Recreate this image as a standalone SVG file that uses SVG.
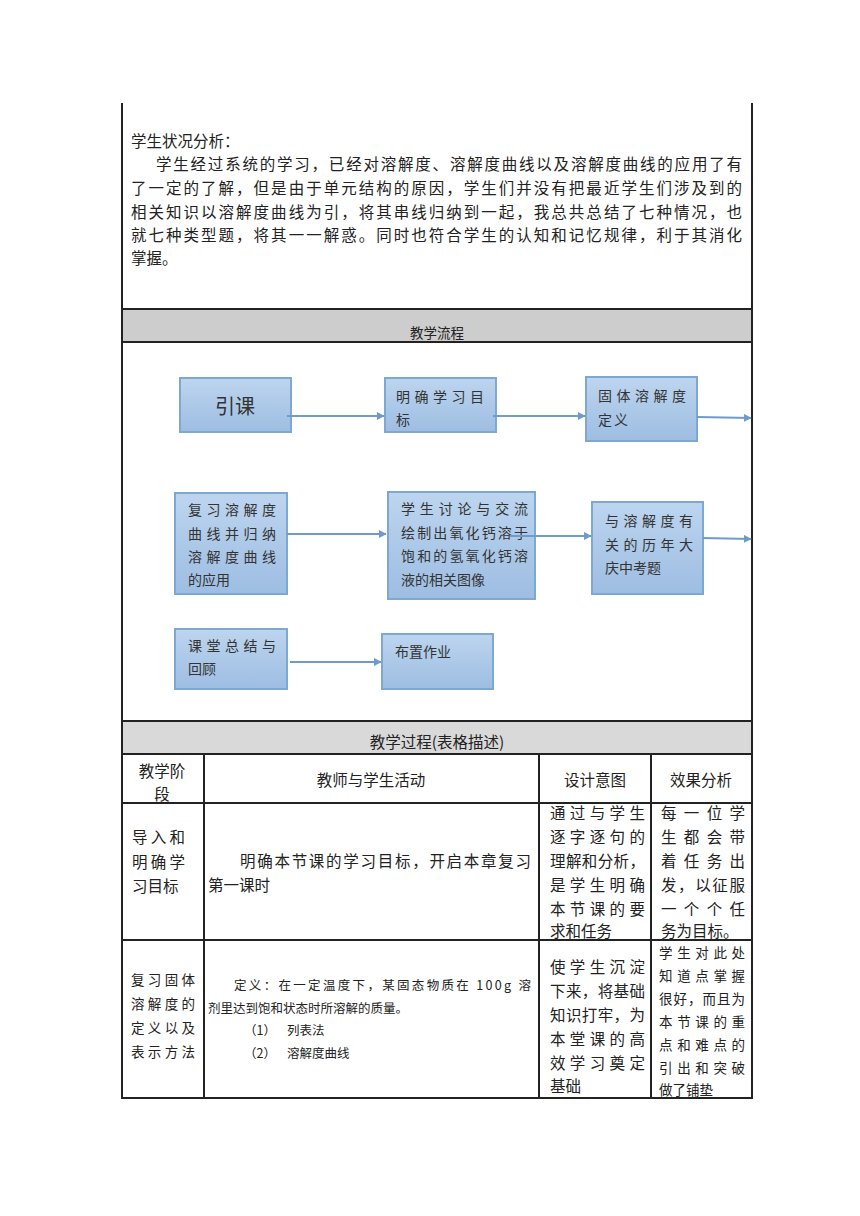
<svg xmlns="http://www.w3.org/2000/svg" width="860" height="1216" viewBox="0 0 860 1216">
<defs>
<linearGradient id="bg" x1="0" y1="0" x2="0" y2="1">
<stop offset="0" stop-color="#bdd5ef"/>
<stop offset="1" stop-color="#9dbde2"/>
</linearGradient>
<marker id="ah" viewBox="0 0 10 10" refX="9" refY="5" markerWidth="8" markerHeight="8" orient="auto" markerUnits="userSpaceOnUse">
<path d="M0,0 L10,5 L0,10 z" fill="#6f9bcb"/>
</marker>
</defs>
<style>
text{font-family:"Noto Sans CJK SC","Noto Sans",sans-serif;fill:#222;}
.t16{font-size:15.5px;}
.t17{font-size:15.5px;}
.t14{font-size:13.5px;}
.t13{font-size:12.5px;}
.bx text{font-size:14px;fill:#333;}
.box{fill:url(#bg);stroke:#7ea7d2;stroke-width:2;}
.ln{stroke:#222;stroke-width:2;fill:none;}
.con line{stroke:#6f9bcb;stroke-width:2;marker-end:url(#ah);}
</style>
<rect width="860" height="1216" fill="#ffffff"/>

<!-- table structure -->
<g id="table">
<rect x="122" y="309" width="630" height="33" fill="#cdcdcd"/>
<rect x="122" y="721" width="630" height="33" fill="#d9d9d9"/>
<line class="ln" x1="122" y1="103" x2="122" y2="1099"/>
<line class="ln" x1="752" y1="103" x2="752" y2="1099"/>
<line class="ln" x1="121" y1="309" x2="753" y2="309"/>
<line class="ln" x1="121" y1="342" x2="753" y2="342"/>
<line class="ln" x1="121" y1="721" x2="753" y2="721"/>
<line class="ln" x1="121" y1="754" x2="753" y2="754"/>
<line class="ln" x1="121" y1="803" x2="753" y2="803"/>
<line class="ln" x1="121" y1="940" x2="753" y2="940"/>
<line class="ln" x1="121" y1="1098" x2="753" y2="1098"/>
<line class="ln" x1="204" y1="754" x2="204" y2="1099"/>
<line class="ln" x1="539" y1="754" x2="539" y2="1099"/>
<line class="ln" x1="651" y1="754" x2="651" y2="1099"/>
</g>

<!-- top text -->
<g id="analysis" class="t16">
<text x="131" y="147">学生状况分析：</text>
<text x="156" y="170" textLength="586" lengthAdjust="spacing">学生经过系统的学习，已经对溶解度、溶解度曲线以及溶解度曲线的应用了有</text>
<text x="131" y="194" textLength="611" lengthAdjust="spacing">了一定的了解，但是由于单元结构的原因，学生们并没有把最近学生们涉及到的</text>
<text x="131" y="218" textLength="611" lengthAdjust="spacing">相关知识以溶解度曲线为引，将其串线归纳到一起，我总共总结了七种情况，也</text>
<text x="131" y="241" textLength="611" lengthAdjust="spacing">就七种类型题，将其一一解惑。同时也符合学生的认知和记忆规律，利于其消化</text>
<text x="131" y="264">掌握。</text>
</g>

<text x="437" y="338" class="t14" text-anchor="middle">教学流程</text>
<text x="437" y="748" class="t16" text-anchor="middle">教学过程(表格描述)</text>

<!-- flow nodes -->
<g id="n1" class="bx"><rect class="box" x="180" y="378" width="111" height="54"/><text x="235" y="414" text-anchor="middle" style="font-size:20px">引课</text></g>
<g id="n2" class="bx"><rect class="box" x="385" y="378" width="111" height="54"/><text x="396" y="402" textLength="88" lengthAdjust="spacing">明确学习目</text><text x="396" y="425">标</text></g>
<g id="n3" class="bx"><rect class="box" x="586" y="377" width="111" height="64"/><text x="598" y="401" textLength="88" lengthAdjust="spacing">固体溶解度</text><text x="598" y="425" textLength="30" lengthAdjust="spacing">定义</text></g>
<g id="n4" class="bx"><rect class="box" x="175" y="493" width="112" height="101"/><text x="188" y="515" textLength="88" lengthAdjust="spacing">复习溶解度</text><text x="188" y="539" textLength="88" lengthAdjust="spacing">曲线并归纳</text><text x="188" y="562" textLength="88" lengthAdjust="spacing">溶解度曲线</text><text x="188" y="585">的应用</text></g>
<g id="n5" class="bx"><rect class="box" x="388" y="492" width="147" height="107"/><text x="401" y="514" textLength="127" lengthAdjust="spacing">学生讨论与交流</text><text x="401" y="538" textLength="127" lengthAdjust="spacing">绘制出氧化钙溶于</text><text x="401" y="561" textLength="127" lengthAdjust="spacing">饱和的氢氧化钙溶</text><text x="401" y="585">液的相关图像</text></g>
<g id="n6" class="bx"><rect class="box" x="592" y="502" width="111" height="92"/><text x="605" y="526" textLength="88" lengthAdjust="spacing">与溶解度有</text><text x="605" y="550" textLength="88" lengthAdjust="spacing">关的历年大</text><text x="605" y="573">庆中考题</text></g>
<g id="n7" class="bx"><rect class="box" x="175" y="629" width="112" height="60"/><text x="188" y="651" textLength="88" lengthAdjust="spacing">课堂总结与</text><text x="188" y="674">回顾</text></g>
<g id="n8" class="bx"><rect class="box" x="382" y="634" width="111" height="55"/><text x="395" y="657">布置作业</text></g>

<!-- connectors -->
<g id="connectors" class="con">
<line x1="287" y1="416" x2="384" y2="416"/>
<line x1="493" y1="416" x2="585" y2="416"/>
<line x1="697" y1="417" x2="751" y2="418"/>
<line x1="287" y1="534" x2="386" y2="534"/>
<line x1="510" y1="536" x2="591" y2="536"/>
<line x1="703" y1="538" x2="751" y2="539"/>
<line x1="290" y1="662" x2="381" y2="662"/>
</g>

<!-- table header -->
<g id="header" class="t16">
<text x="162" y="777" text-anchor="middle">教学阶</text>
<text x="162" y="800" text-anchor="middle">段</text>
<text x="371" y="786" text-anchor="middle">教师与学生活动</text>
<text x="595" y="786" text-anchor="middle">设计意图</text>
<text x="701" y="786" text-anchor="middle">效果分析</text>
</g>

<!-- row 1 -->
<g id="row1">
<text class="t16" x="132" y="843" textLength="53" lengthAdjust="spacing">导入和</text>
<text class="t16" x="132" y="868" textLength="53" lengthAdjust="spacing">明确学</text>
<text class="t16" x="132" y="892">习目标</text>
<text class="t16" x="240" y="867" textLength="291" lengthAdjust="spacing">明确本节课的学习目标，开启本章复习</text>
<text class="t16" x="208" y="891">第一课时</text>
<text class="t17" x="550" y="819" textLength="95" lengthAdjust="spacing">通过与学生</text>
<text class="t17" x="550" y="843" textLength="95" lengthAdjust="spacing">逐字逐句的</text>
<text class="t17" x="550" y="867" textLength="95" lengthAdjust="spacing">理解和分析，</text>
<text class="t17" x="550" y="891" textLength="95" lengthAdjust="spacing">是学生明确</text>
<text class="t17" x="550" y="915" textLength="95" lengthAdjust="spacing">本节课的要</text>
<text class="t17" x="550" y="937">求和任务</text>
<text class="t17" x="661" y="819" textLength="84" lengthAdjust="spacing">每一位学</text>
<text class="t17" x="661" y="843" textLength="84" lengthAdjust="spacing">生都会带</text>
<text class="t17" x="661" y="867" textLength="84" lengthAdjust="spacing">着任务出</text>
<text class="t17" x="661" y="891" textLength="84" lengthAdjust="spacing">发，以征服</text>
<text class="t17" x="661" y="915" textLength="84" lengthAdjust="spacing">一个个任</text>
<text class="t17" x="661" y="937">务为目标。</text>
</g>

<!-- row 2 -->
<g id="row2">
<text class="t14" x="131" y="985" textLength="64" lengthAdjust="spacing">复习固体</text>
<text class="t14" x="131" y="1009" textLength="64" lengthAdjust="spacing">溶解度的</text>
<text class="t14" x="131" y="1033" textLength="64" lengthAdjust="spacing">定义以及</text>
<text class="t14" x="131" y="1057" textLength="64" lengthAdjust="spacing">表示方法</text>
<text class="t13" x="234" y="990" textLength="297" lengthAdjust="spacing">定义：在一定温度下，某固态物质在 100g 溶</text>
<text class="t13" x="208" y="1013">剂里达到饱和状态时所溶解的质量。</text>
<text class="t13" x="244" y="1035">（1）</text>
<text class="t13" x="287" y="1035">列表法</text>
<text class="t13" x="244" y="1058">（2）</text>
<text class="t13" x="287" y="1058">溶解度曲线</text>
<text class="t17" x="550" y="973" textLength="95" lengthAdjust="spacing">使学生沉淀</text>
<text class="t17" x="550" y="997" textLength="95" lengthAdjust="spacing">下来，将基础</text>
<text class="t17" x="550" y="1021" textLength="95" lengthAdjust="spacing">知识打牢，为</text>
<text class="t17" x="550" y="1045" textLength="95" lengthAdjust="spacing">本堂课的高</text>
<text class="t17" x="550" y="1069" textLength="95" lengthAdjust="spacing">效学习奠定</text>
<text class="t17" x="550" y="1092">基础</text>
<text class="t14" x="659" y="958" textLength="86" lengthAdjust="spacing">学生对此处</text>
<text class="t14" x="659" y="981" textLength="86" lengthAdjust="spacing">知道点掌握</text>
<text class="t14" x="659" y="1004" textLength="86" lengthAdjust="spacing">很好，而且为</text>
<text class="t14" x="659" y="1027" textLength="86" lengthAdjust="spacing">本节课的重</text>
<text class="t14" x="659" y="1050" textLength="86" lengthAdjust="spacing">点和难点的</text>
<text class="t14" x="659" y="1073" textLength="86" lengthAdjust="spacing">引出和突破</text>
<text class="t14" x="659" y="1095">做了铺垫</text>
</g>
</svg>
